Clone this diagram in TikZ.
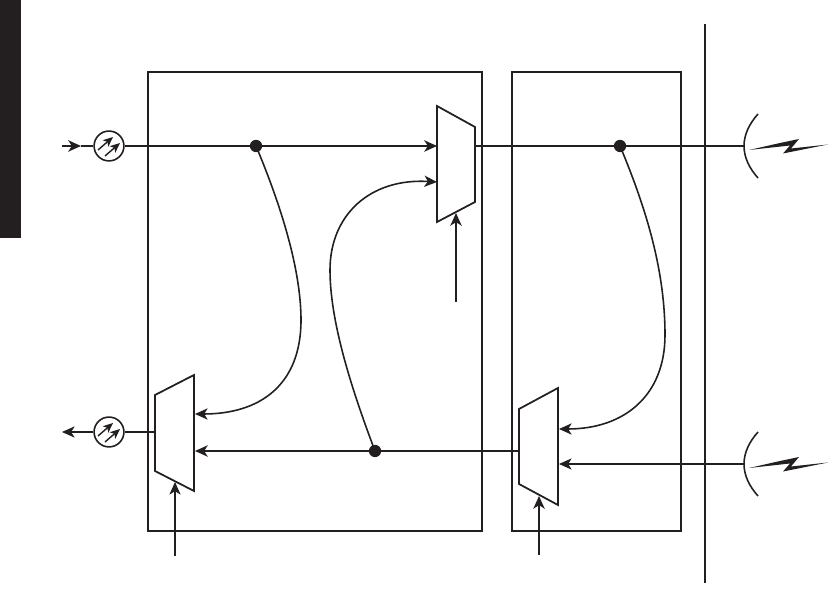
\documentclass[tikz,border=0pt]{standalone}
\usepackage{xcolor}
\usepackage{tikz}
\usetikzlibrary{arrows.meta, calc}
\definecolor{ink}{HTML}{231F20}

\begin{document}
\begin{tikzpicture}[
  x=0.02cm, y=-0.02cm,
  frame/.style={draw=ink, line width=1.3pt},
  mux/.style={draw=ink, line width=1pt},
  bus/.style={draw=ink, line width=1.3pt},
  lead/.style={draw=ink, line width=0.65pt},
  arrow/.style={-{Stealth[length=7.2pt, width=6.4pt, inset=2pt]}},
  tick/.style={-{Stealth[length=5.6pt, width=4.8pt, inset=1.4pt]}, draw=ink, line width=0.8pt},
  knot/.style={circle, fill=ink, inner sep=0pt, minimum size=7pt},
  dial/.style={circle, draw=ink, line width=0.9pt, fill=white, inner sep=0pt, minimum size=17pt},
  dish/.style={draw=ink, line width=0.9pt},
  bolt/.style={fill=ink, draw=none}
]
  \useasboundingbox (0,0) rectangle (838,590);

  % Side tab, cards and the wall
  \fill[ink] (0,0) rectangle (21,238);
  \draw[frame] (148,72) rectangle (482,531);
  \draw[frame] (512,72) rectangle (681,531);
  \coordinate (walltop) at (705,24);
  \coordinate (wallend) at (705,583);
  \draw[frame] (walltop) -- (wallend);

  % Top row
  \coordinate (inlead) at (62,146);
  \coordinate (intip) at (81,146);
  \coordinate (muxain) at (437,146);
  \coordinate (muxaout) at (475,146);
  \coordinate (muxacurve) at (437,182);
  \coordinate (muxasel) at (456,213);
  \coordinate (selalead) at (456,302);
  \coordinate (dishtop) at (744,146);
  \node[dial] (dialin) at (109,146) {};
  \node[knot] (knotleft) at (256,146) {};
  \node[knot] (knotright) at (620,146) {};

  \draw[mux] (437,106) -- (475,127) -- (475,202) -- (437,222) -- cycle;
  \draw[bus, arrow] (inlead) -- (intip);
  \draw[bus] (intip) -- (dialin);
  \draw[bus, arrow] (dialin) -- (muxain);
  \draw[bus] (muxaout) -- (dishtop);
  \draw[bus, arrow] (selalead) -- (muxasel);

  % Bottom row
  \coordinate (outlead) at (62,432);
  \coordinate (muxbout) at (155,432);
  \coordinate (muxbin) at (195,451);
  \coordinate (muxbcurve) at (195,414);
  \coordinate (muxbsel) at (175,482);
  \coordinate (selblead) at (175,556);
  \coordinate (muxcout) at (519,451);
  \coordinate (muxcin) at (559,464);
  \coordinate (muxccurve) at (559,429);
  \coordinate (muxcsel) at (539,496);
  \coordinate (selclead) at (539,555);
  \coordinate (dishlow) at (744,464);
  \node[dial] (dialout) at (109,432) {};
  \node[knot] (knotlow) at (375,451) {};

  \draw[mux] (155,395) -- (194,375) -- (194,491) -- (155,471) -- cycle;
  \draw[mux] (519,409) -- (558,388) -- (558,505) -- (519,484) -- cycle;
  \draw[lead] (muxbout) -- (dialout);
  \draw[lead, arrow] (dialout) -- (outlead);
  \draw[bus, arrow] (muxcout) -- (muxbin);
  \draw[lead, arrow] (dishlow) -- (muxcin);
  \draw[lead, arrow] (selblead) -- (muxbsel);
  \draw[bus, arrow] (selclead) -- (muxcsel);

  % Curved taps
  \draw[lead, arrow, line width=0.9pt] (knotleft.center) .. controls (285,215) and (301,275) .. (301,320)
    .. controls (301,385) and (260,414) .. (muxbcurve);
  \draw[lead, arrow, line width=0.9pt] (knotlow.center) .. controls (350,385) and (330,320) .. (330,270)
    .. controls (330,215) and (370,178) .. (muxacurve);
  \draw[lead, arrow, line width=0.9pt] (knotright.center) .. controls (649,215) and (665,275) .. (665,335)
    .. controls (665,395) and (625,429) .. (muxccurve);

  % Attenuator marks
  \foreach \dialname in {dialin, dialout} {
    \draw[tick] ($(\dialname)+(-11,4)$) -- ($(\dialname)+(4,-9)$);
    \draw[tick] ($(\dialname)+(-4,10)$) -- ($(\dialname)+(11,-3)$);
  }

  % Antennas
  \foreach \dishname in {dishtop, dishlow} {
    \draw[dish, shift={(\dishname)}] (14,-32) .. controls (5,-22) and (0,-11) .. (0,0)
      .. controls (0,11) and (5,22) .. (14,32);
    \fill[bolt, shift={(\dishname)}] (5,4) -- (36,-3) -- (55,-7) -- (47,2.5) -- (84,-1.5) -- (39,7.5) -- (46,-0.5) -- cycle;
  }
\end{tikzpicture}
\end{document}
